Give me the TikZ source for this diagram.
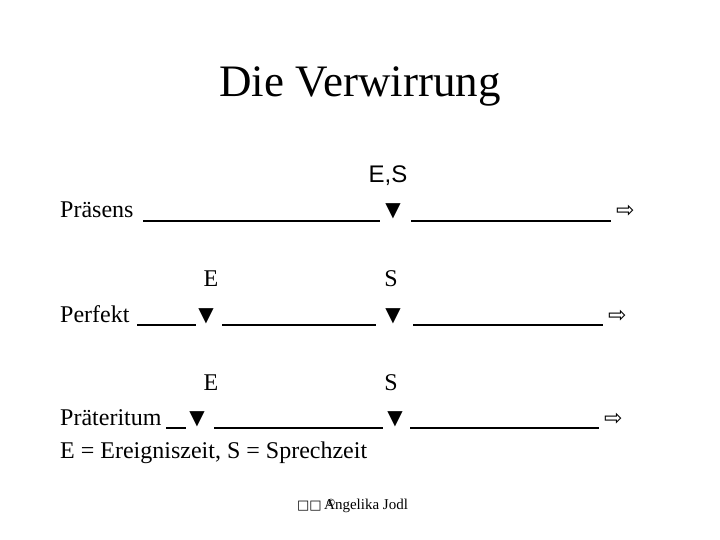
\documentclass[tikz,border=0pt]{standalone}
\usepackage{fontspec}
\setmainfont{Liberation Serif}
\newfontfamily\arialf{Liberation Sans}
\newfontfamily\symf{DejaVu Sans}
\begin{document}
\begin{tikzpicture}[x=1pt,y=-1pt]
\useasboundingbox[fill=white] (0,0) rectangle (720,540);
\tikzset{
  lbl/.style={inner sep=0pt, anchor=base west, font=\fontsize{24}{28}\selectfont},
  tmark/.style={inner sep=0pt, anchor=base, font=\fontsize{24}{28}\selectfont},
  tri/.style={inner sep=0pt, anchor=base, font=\symf\fontsize{20}{24}\selectfont},
  arr/.style={inner sep=0pt, anchor=base west, font=\symf\fontsize{22}{26}\selectfont},
  tl/.style={line width=1.2pt}
}
% title
\node[inner sep=0pt, anchor=base, font=\fontsize{45}{50}\selectfont] (title) at (360,97) {Die Verwirrung};
% row 1
\node[inner sep=0pt, anchor=base, font=\arialf\fontsize{24}{28}\selectfont] (es) at (388,183) {E,S};
\node[lbl] (praes) at (60,218) {Präsens};
\draw[tl] (143,221) -- (380,221);
\node[tri] (t1) at (393,217) {▼};
\draw[tl] (411,221) -- (611,221);
\node[arr] (a1) at (616,218) {⇨};
% row 2
\node[tmark] (e2) at (211,286) {E};
\node[tmark] (s2) at (391,286) {S};
\node[lbl] (perf) at (60,322) {Perfekt};
\draw[tl] (137,325) -- (196,325);
\node[tri] (t2a) at (206,321) {▼};
\draw[tl] (222,325) -- (376,325);
\node[tri] (t2b) at (393,321) {▼};
\draw[tl] (413,325) -- (603,325);
\node[arr] (a2) at (608,322) {⇨};
% row 3
\node[tmark] (e3) at (211,390) {E};
\node[tmark] (s3) at (391,390) {S};
\node[lbl] (praet) at (60,425) {Präteritum};
\draw[tl] (166,428) -- (186,428);
\node[tri] (t3a) at (197,424) {▼};
\draw[tl] (214,428) -- (383,428);
\node[tri] (t3b) at (395,424) {▼};
\draw[tl] (410,428) -- (599,428);
\node[arr] (a3) at (604,425) {⇨};
% legend
\node[lbl] (leg) at (60,458) {E = Ereigniszeit, S = Sprechzeit};
% footer
\node[inner sep=0pt, anchor=base west, font=\symf\fontsize{13}{15}\selectfont] (box) at (297,509) {□□};
\node[inner sep=0pt, anchor=base west, font=\fontsize{15}{17}\selectfont] (auth) at (324,509) {Angelika Jodl};
\node[inner sep=0pt, anchor=base west, font=\symf\fontsize{10}{12}\selectfont] (copy) at (326,506) {©};
\end{tikzpicture}
\end{document}
